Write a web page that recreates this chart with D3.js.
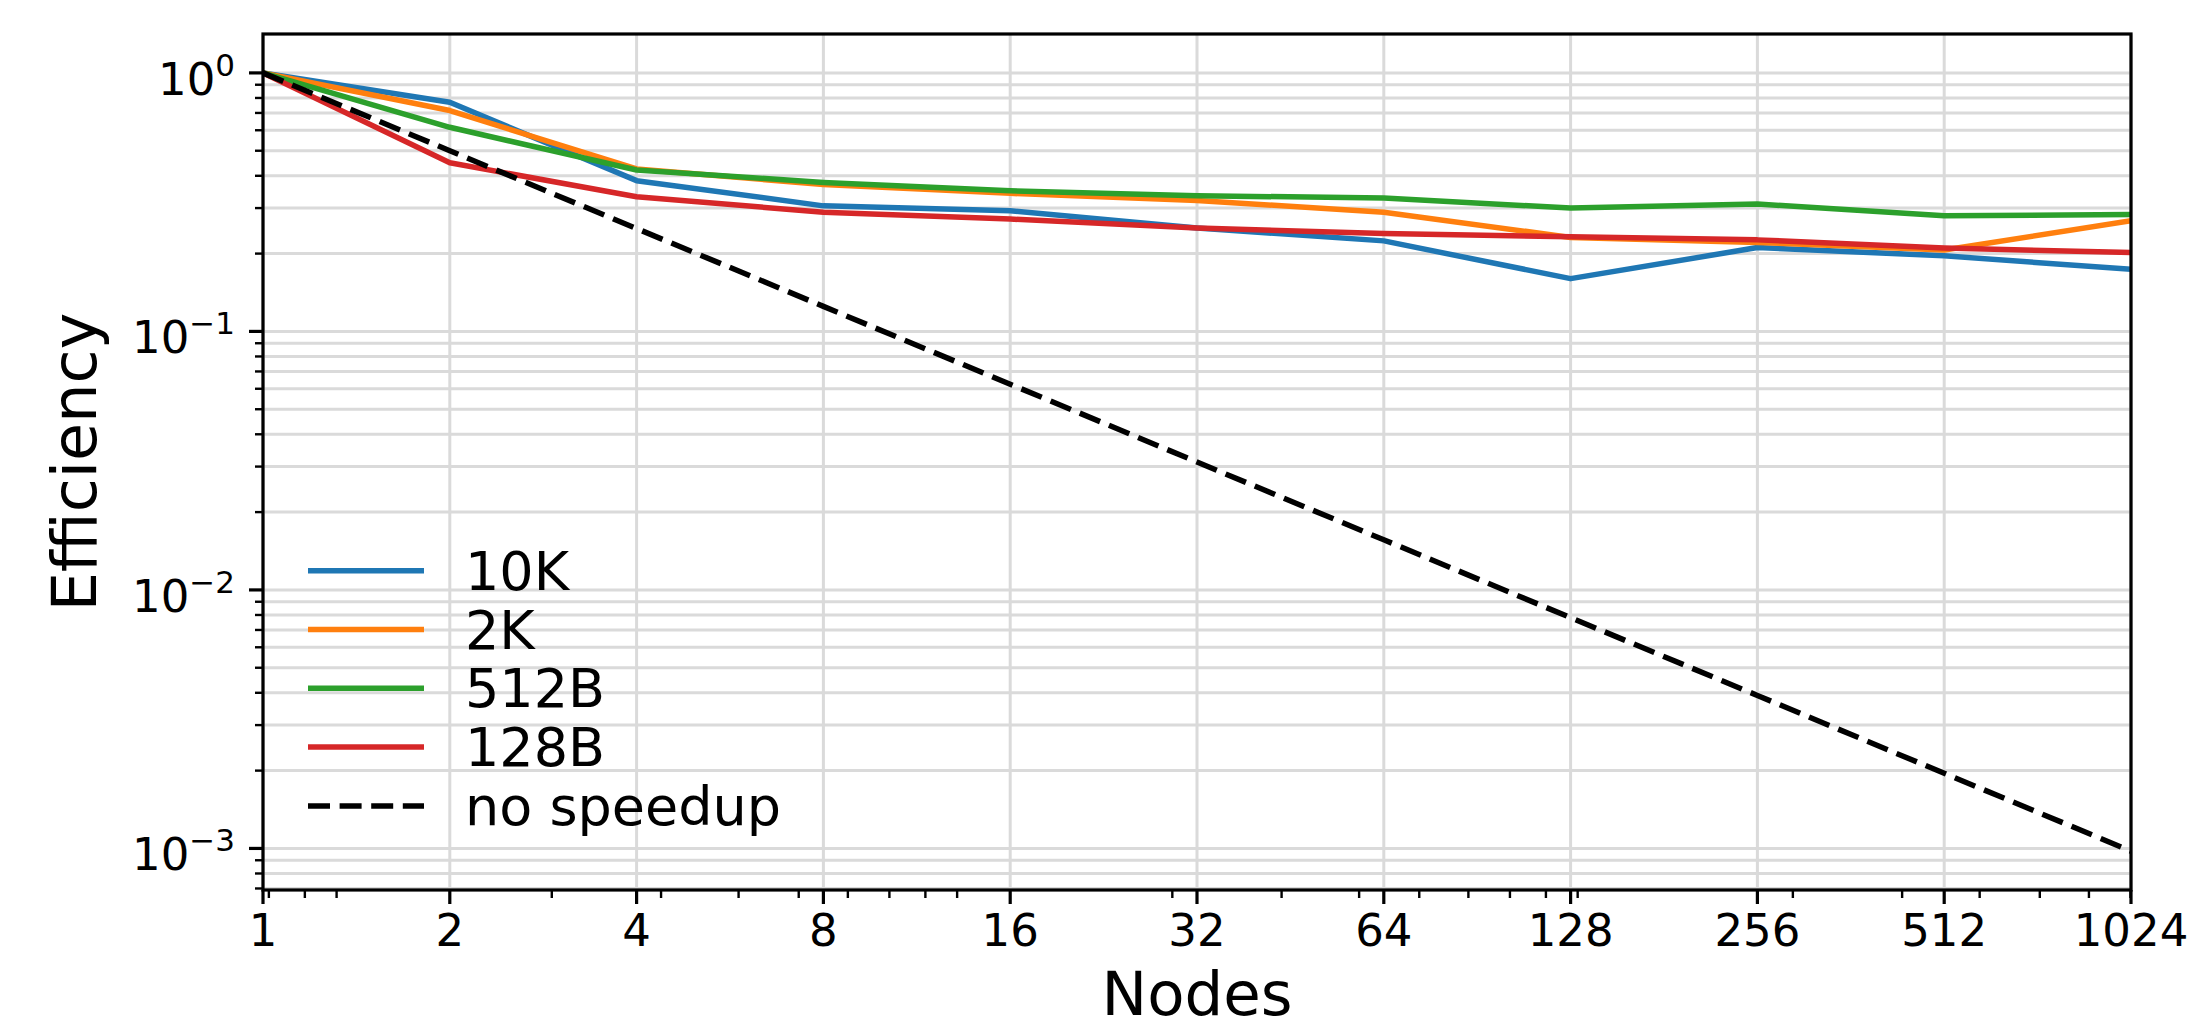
<!DOCTYPE html>
<html>
<head>
<meta charset="utf-8">
<script src="https://cdn.jsdelivr.net/npm/d3@7"></script>
<style>
  body { margin: 0; background: #fff; }
  text { font-family: "DejaVu Sans", sans-serif; fill: #000; }
</style>
</head>
<body>
<div id="chart"></div>
<script>
// Data
const nodes = [1, 2, 4, 8, 16, 32, 64, 128, 256, 512, 1024];
const eff10K = [1, 0.77, 0.383, 0.306, 0.293, 0.251, 0.224, 0.160, 0.211, 0.196, 0.174];
const eff2K = [1, 0.715, 0.425, 0.370, 0.342, 0.321, 0.289, 0.231, 0.221, 0.2065, 0.268];
const eff512B = [1, 0.616, 0.421, 0.377, 0.350, 0.335, 0.328, 0.300, 0.311, 0.280, 0.283];
const eff128B = [1, 0.449, 0.332, 0.289, 0.272, 0.251, 0.239, 0.2325, 0.226, 0.210, 0.202];
const noSpeedup = [1, 0.5, 0.25, 0.125, 0.0625, 0.03125, 0.015625, 0.0078125, 0.00390625, 0.001953125, 0.0009765625];

const seriesNames = ["10K", "2K", "512B", "128B"];
const seriesValues = [eff10K, eff2K, eff512B, eff128B];
const seriesColors = ["#1f77b4", "#ff7f0e", "#2ca02c", "#d62728"];

const xTickLabels = ["1", "2", "4", "8", "16", "32", "64", "128", "256", "512", "1024"];
const yTickExponents = [0, -1, -2, -3];

// Set up dimensions
const width = 2208, height = 1029;
const plot = {left: 263, right: 2131, top: 34, bottom: 890};

const svg = d3.select("#chart")
    .append("svg")
    .attr("width", width)
    .attr("height", height);

svg.append("rect").attr("width", width).attr("height", height).attr("fill", "#fff");

// Scales
const x = d3.scaleLog().base(2)
    .domain([1, 1024])
    .range([plot.left, plot.right]);

const y = d3.scaleLog()
    .domain([Math.pow(10, -3.1608), Math.pow(10, 0.1505)])
    .range([plot.bottom, plot.top]);

// minor ticks on x sit on a shifted decade grid
const xMinor = [];
[-1, 0, 1, 2].forEach(k => {
    d3.range(2, 10).forEach(s => {
        const v = 1.46 * s * Math.pow(10, k);
        if (v > 1.001 && v < 1023.9) xMinor.push(v);
    });
});
const yMinor = [];
[-4, -3, -2, -1, 0].forEach(k => {
    d3.range(2, 10).forEach(s => {
        const v = s * Math.pow(10, k);
        if (v > y.domain()[0] && v < y.domain()[1]) yMinor.push(v);
    });
});
const yMajor = yTickExponents.map(e => Math.pow(10, e));

// Grid
const grid = svg.append("g")
    .attr("stroke", "#dadada")
    .attr("stroke-width", 3);

grid.selectAll(".hgrid")
    .data(yMajor.concat(yMinor))
    .join("line")
    .attr("x1", plot.left).attr("x2", plot.right)
    .attr("y1", d => y(d)).attr("y2", d => y(d));

grid.selectAll(".vgrid")
    .data(nodes)
    .join("line")
    .attr("x1", d => x(d)).attr("x2", d => x(d))
    .attr("y1", plot.top).attr("y2", plot.bottom);

// Clip for the lines
svg.append("clipPath").attr("id", "clip")
    .append("rect")
    .attr("x", plot.left).attr("y", plot.top)
    .attr("width", plot.right - plot.left)
    .attr("height", plot.bottom - plot.top);

const line = d3.line()
    .x((d, i) => x(nodes[i]))
    .y(d => y(d));

const lines = svg.append("g").attr("clip-path", "url(#clip)");

seriesValues.forEach((vals, i) => {
    lines.append("path")
        .datum(vals)
        .attr("fill", "none")
        .attr("stroke", seriesColors[i])
        .attr("stroke-width", 5.5)
        .attr("stroke-linejoin", "round")
        .attr("d", line);
});

lines.append("path")
    .datum(noSpeedup)
    .attr("fill", "none")
    .attr("stroke", "#000")
    .attr("stroke-width", 5.5)
    .attr("stroke-dasharray", "22,9.6")
    .attr("d", line);

// Spines
svg.append("rect")
    .attr("x", plot.left).attr("y", plot.top)
    .attr("width", plot.right - plot.left)
    .attr("height", plot.bottom - plot.top)
    .attr("fill", "none")
    .attr("stroke", "#000")
    .attr("stroke-width", 3.2);

// x axis ticks
const xAxis = svg.append("g").attr("stroke", "#000");
xAxis.selectAll(".xmaj")
    .data(nodes)
    .join("line")
    .attr("x1", d => x(d)).attr("x2", d => x(d))
    .attr("y1", plot.bottom).attr("y2", plot.bottom + 14)
    .attr("stroke-width", 3.2);
xAxis.selectAll(".xmin")
    .data(xMinor)
    .join("line")
    .attr("x1", d => x(d)).attr("x2", d => x(d))
    .attr("y1", plot.bottom).attr("y2", plot.bottom + 8)
    .attr("stroke-width", 2.4);

svg.append("g").selectAll("text")
    .data(nodes)
    .join("text")
    .attr("x", d => x(d))
    .attr("y", 946)
    .attr("text-anchor", "middle")
    .style("font-size", "45px")
    .text((d, i) => xTickLabels[i]);

// y axis ticks
const yAxis = svg.append("g").attr("stroke", "#000");
yAxis.selectAll(".ymaj")
    .data(yMajor)
    .join("line")
    .attr("x1", plot.left - 14).attr("x2", plot.left)
    .attr("y1", d => y(d)).attr("y2", d => y(d))
    .attr("stroke-width", 3.2);
yAxis.selectAll(".ymin")
    .data(yMinor)
    .join("line")
    .attr("x1", plot.left - 8).attr("x2", plot.left)
    .attr("y1", d => y(d)).attr("y2", d => y(d))
    .attr("stroke-width", 2.4);

const yLabels = svg.append("g").selectAll("text")
    .data(yTickExponents)
    .join("text")
    .attr("x", 235)
    .attr("y", d => y(Math.pow(10, d)) + 22)
    .attr("text-anchor", "end")
    .style("font-size", "45px");
yLabels.append("tspan").text("10");
yLabels.append("tspan")
    .attr("dy", -19)
    .style("font-size", "31px")
    .text(d => d === 0 ? "0" : "\u2212" + Math.abs(d));

// Axis labels
svg.append("text")
    .attr("x", (plot.left + plot.right) / 2)
    .attr("y", 1015)
    .attr("text-anchor", "middle")
    .style("font-size", "61px")
    .text("Nodes");

svg.append("text")
    .attr("transform", `translate(96,${(plot.top + plot.bottom) / 2}) rotate(-90)`)
    .attr("text-anchor", "middle")
    .style("font-size", "62px")
    .text("Efficiency");

// Legend (no frame)
const legendNames = seriesNames.concat(["no speedup"]);
const legendColors = seriesColors.concat(["#000"]);
const legend = svg.append("g");
legendNames.forEach((name, i) => {
    const ly = 570.7 + i * 58.8;
    legend.append("line")
        .attr("x1", 308).attr("x2", 424)
        .attr("y1", ly).attr("y2", ly)
        .attr("stroke", legendColors[i])
        .attr("stroke-width", 5.5)
        .attr("stroke-dasharray", i === 4 ? "22,9.6" : null);
    legend.append("text")
        .attr("x", 465)
        .attr("y", ly + 19)
        .style("font-size", "54px")
        .text(name);
});
</script>
</body>
</html>
